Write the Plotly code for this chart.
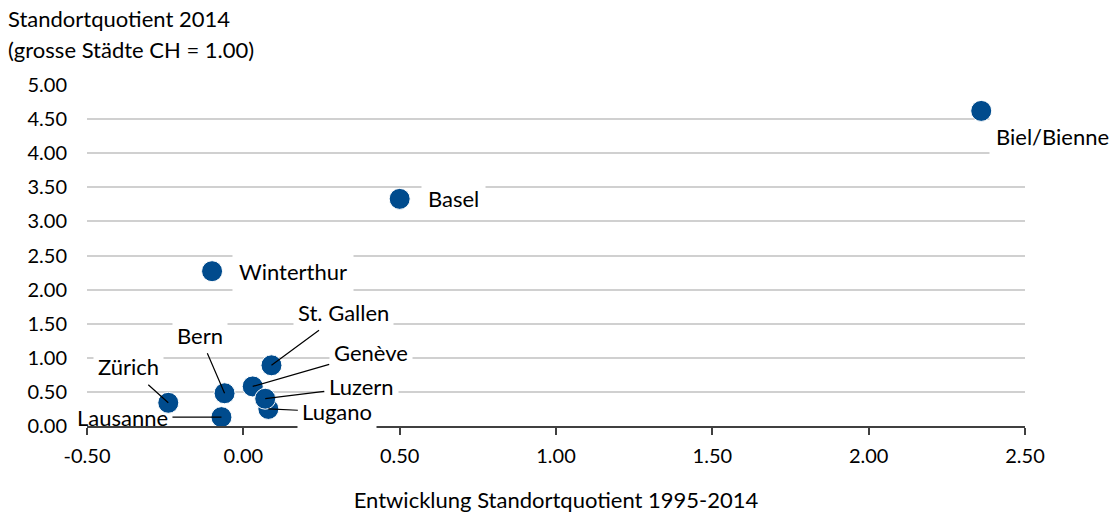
import plotly.graph_objects as go

# Data
cities = ["Biel/Bienne", "Basel", "Winterthur", "St. Gallen", "Genève",
          "Lugano", "Luzern", "Bern", "Zürich", "Lausanne"]
entwicklung = [2.36, 0.50, -0.10, 0.09, 0.03, 0.08, 0.07, -0.06, -0.24, -0.07]
standortquotient = [4.62, 3.33, 2.27, 0.89, 0.58, 0.25, 0.40, 0.48, 0.34, 0.13]

x_ticks = [-0.5, 0.0, 0.5, 1.0, 1.5, 2.0, 2.5]
x_ticktext = ["-0.50", "0.00", "0.50", "1.00", "1.50", "2.00", "2.50"]
y_ticks = [0.0, 0.5, 1.0, 1.5, 2.0, 2.5, 3.0, 3.5, 4.0, 4.5, 5.0]
y_ticktext = ["0.00", "0.50", "1.00", "1.50", "2.00", "2.50", "3.00", "3.50",
              "4.00", "4.50", "5.00"]

FONT = "Lato"
FS = 20      # tick labels
FL = 22      # labels / titles
DOT = "#004B8D"

# label placement styles (pixel offsets)
label_style = {
    "Biel/Bienne": dict(arrow=False, xshift=8, yshift=-26),
    "Basel": dict(arrow=False, xshift=21, yshift=0),
    "Winterthur": dict(arrow=False, xshift=20, yshift=0),
    "St. Gallen": dict(arrow=True, ax=72, ay=-53),
    "Genève": dict(arrow=True, ax=118, ay=-34),
    "Luzern": dict(arrow=True, ax=96, ay=-12),
    "Lugano": dict(arrow=True, ax=69, ay=3),
    "Bern": dict(arrow=True, ax=-25, ay=-58),
    "Zürich": dict(arrow=True, ax=-40, ay=-36),
    "Lausanne": dict(arrow=True, ax=-99, ay=0, nobg=True),
}

fig = go.Figure()
fig.add_trace(go.Scatter(
    x=entwicklung, y=standortquotient, mode="markers",
    marker=dict(size=21, color=DOT, line=dict(color="white", width=1)),
    hoverinfo="skip", showlegend=False,
))

annotations = []
for c, xv, yv in zip(cities, entwicklung, standortquotient):
    s = label_style[c]
    bg = "rgba(0,0,0,0)" if s.get("nobg") else "white"
    if s["arrow"]:
        annotations.append(dict(
            x=xv, y=yv, xref="x", yref="y", text=c, showarrow=True,
            ax=s["ax"], ay=s["ay"], arrowhead=0, arrowwidth=1.2,
            arrowcolor="black", standoff=0, startstandoff=0,
            font=dict(family=FONT, size=FL, color="black"),
            bgcolor=bg, borderpad=4,
        ))
    else:
        annotations.append(dict(
            x=xv, y=yv, xref="x", yref="y", text=c, showarrow=False,
            xanchor="left", yanchor="middle",
            xshift=s["xshift"], yshift=s["yshift"],
            font=dict(family=FONT, size=FL, color="black"),
            bgcolor="white", borderpad=6,
        ))

# y-axis title lines (top-left)
annotations.append(dict(text="Standortquotient 2014", xref="paper", yref="paper",
                        x=-0.086, y=1.196, xanchor="left", yanchor="middle",
                        showarrow=False, font=dict(family=FONT, size=FL, color="black")))
annotations.append(dict(text="(grosse Städte CH = 1.00)", xref="paper", yref="paper",
                        x=-0.086, y=1.103, xanchor="left", yanchor="middle",
                        showarrow=False, font=dict(family=FONT, size=FL, color="black")))

fig.update_layout(
    width=1113, height=513,
    margin=dict(l=87, r=88, t=85, b=87),
    paper_bgcolor="white", plot_bgcolor="white",
    font=dict(family=FONT, size=FS, color="black"),
    annotations=annotations,
    xaxis=dict(
        range=[-0.5, 2.5], tickvals=x_ticks, ticktext=x_ticktext,
        showgrid=False, zeroline=False,
        showline=True, linecolor="#404040", linewidth=1.5,
        ticks="outside", ticklen=7, tickcolor="#404040", tickwidth=1.5,
        ticklabelstandoff=4, automargin=False,
        title=dict(text="Entwicklung Standortquotient 1995-2014",
                   font=dict(family=FONT, size=FL), standoff=28),
        fixedrange=True,
    ),
    yaxis=dict(
        range=[0, 5], tickvals=y_ticks, ticktext=y_ticktext,
        showgrid=True, gridcolor="#D0D0D0", gridwidth=1.5,
        zeroline=False, showline=False, ticks="",
        ticklabelstandoff=19, automargin=False,
        fixedrange=True,
    ),
)

fig.write_html(
    "out.html",
    config={"displayModeBar": False},
    post_script="document.body.style.margin='0';document.body.style.overflow='hidden';",
)
